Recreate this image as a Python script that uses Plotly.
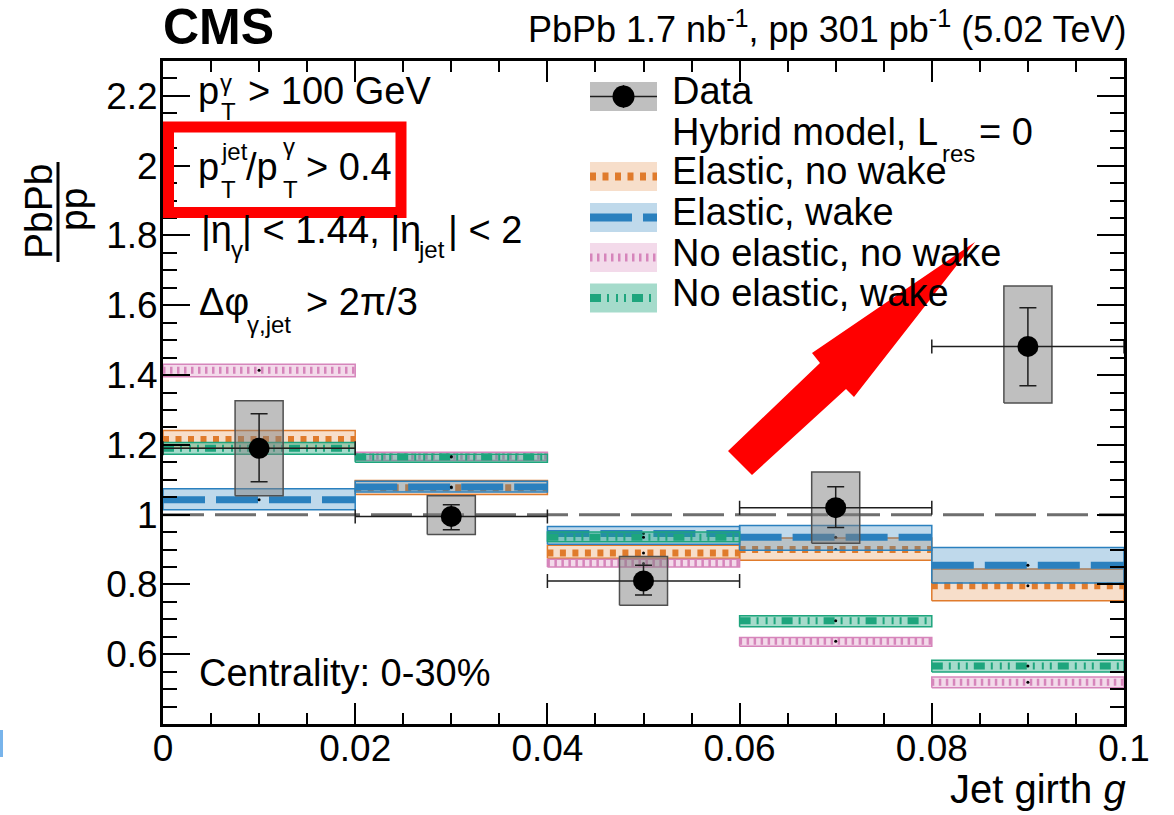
import plotly.graph_objects as go

# ---------------- data ----------------
bin_lo = [0.00, 0.02, 0.04, 0.06, 0.08]
bin_hi = [0.02, 0.04, 0.06, 0.08, 0.10]
bin_mid = [0.01, 0.03, 0.05, 0.07, 0.09]

data_val = [1.19, 0.995, 0.81, 1.02, 1.482]
data_stat_up = [0.099, 0.033, 0.045, 0.060, 0.111]
data_stat_dn = [0.096, 0.038, 0.040, 0.057, 0.113]
data_syst_hi = [1.326, 1.054, 0.880, 1.122, 1.655]
data_syst_lo = [1.054, 0.943, 0.740, 0.918, 1.320]
syst_halfwidth = 0.0025

# Hybrid model, L_res = 0
el_nowake_c = [1.215, 1.077, 0.890, 0.900, 0.796]
el_nowake_lo = [1.190, 1.058, 0.875, 0.869, 0.753]
el_nowake_hi = [1.241, 1.098, 0.912, 0.933, 0.844]

el_wake_c = [1.043, 1.079, 0.946, 0.935, 0.855]
el_wake_lo = [1.014, 1.065, 0.915, 0.898, 0.804]
el_wake_hi = [1.074, 1.096, 0.966, 0.969, 0.906]

noel_nowake_c = [1.414, 1.167, 0.860, 0.637, 0.520]
noel_nowake_lo = [1.395, 1.155, 0.850, 0.623, 0.504]
noel_nowake_hi = [1.431, 1.179, 0.872, 0.648, 0.535]

noel_wake_c = [1.190, 1.165, 0.935, 0.696, 0.566]
noel_wake_lo = [1.173, 1.150, 0.922, 0.679, 0.549]
noel_wake_hi = [1.207, 1.173, 0.950, 0.710, 0.583]

ref_value = 1.0

x_tickvals = [0, 0.02, 0.04, 0.06, 0.08, 0.1]
x_ticktext = ["0", "0.02", "0.04", "0.06", "0.08", "0.1"]
y_tickvals = [0.6, 0.8, 1.0, 1.2, 1.4, 1.6, 1.8, 2.0, 2.2]
y_ticktext = ["0.6", "0.8", "1", "1.2", "1.4", "1.6", "1.8", "2", "2.2"]

legend_labels = ["Data", "Elastic, no wake", "Elastic, wake",
                 "No elastic, no wake", "No elastic, wake"]

# ---------------- style ----------------
FONT = "Liberation Sans"
W, H = 1174, 815
ML, MR, MT, MB = 163, 50, 61, 91
PW, PH = W - ML - MR, H - MT - MB

C_OR = "rgb(224,123,44)"
C_BL = "rgb(42,128,190)"
C_PK = "rgb(214,133,187)"
C_GR = "rgb(30,165,125)"
F_OR = "rgba(224,123,44,0.25)"
F_BL = "rgba(42,128,190,0.30)"
F_PK = "rgba(214,133,187,0.30)"
F_GR = "rgba(30,165,125,0.40)"
D_OR = "6px,6.5px"
D_BL = "42px,11px"
D_PK = "2.5px,4.5px"
D_GR = "11px,6px,2px,7px,2px,6px,2px,6px"


def px(x):
    return (x - ML) / PW


def py(y):
    return (H - MB - y) / PH


def poly(lo_x, hi_x, lo_y, hi_y):
    xs, ys = [], []
    for a, b, c, d in zip(lo_x, hi_x, lo_y, hi_y):
        xs += [a, b, b, a, a, None]
        ys += [c, c, d, d, c, None]
    return xs, ys


def segs(lo_x, hi_x, yv):
    xs, ys = [], []
    for a, b, c in zip(lo_x, hi_x, yv):
        xs += [a, b, None]
        ys += [c, c, None]
    return xs, ys


fig = go.Figure()

models = [
    (el_nowake_c, el_nowake_lo, el_nowake_hi, C_OR, F_OR, D_OR),
    (el_wake_c, el_wake_lo, el_wake_hi, C_BL, F_BL, D_BL),
    (noel_nowake_c, noel_nowake_lo, noel_nowake_hi, C_PK, F_PK, D_PK),
    (noel_wake_c, noel_wake_lo, noel_wake_hi, C_GR, F_GR, D_GR),
]
for c, lo, hi, col, fcol, dash in models:
    bx, by = poly(bin_lo, bin_hi, lo, hi)
    fig.add_trace(go.Scatter(x=bx, y=by, mode="lines", fill="toself",
                             fillcolor=fcol, line=dict(color=col, width=1.5),
                             hoverinfo="skip", showlegend=False))
    lx, ly = segs(bin_lo, bin_hi, c)
    fig.add_trace(go.Scatter(x=lx, y=ly, mode="lines",
                             line=dict(color=col, width=7, dash=dash),
                             hoverinfo="skip", showlegend=False))
    fig.add_trace(go.Scatter(x=bin_mid, y=c, mode="markers",
                             marker=dict(color="black", size=3),
                             hoverinfo="skip", showlegend=False))

# reference line
fig.add_trace(go.Scatter(x=[bin_lo[0], bin_hi[-1]], y=[ref_value, ref_value],
                         mode="lines",
                         line=dict(color="rgb(110,110,110)", width=3, dash="41px,11px"),
                         hoverinfo="skip", showlegend=False))

# systematic boxes
sx_lo = [m - syst_halfwidth for m in bin_mid]
sx_hi = [m + syst_halfwidth for m in bin_mid]
bx, by = poly(sx_lo, sx_hi, data_syst_lo, data_syst_hi)
fig.add_trace(go.Scatter(x=bx, y=by, mode="lines", fill="toself",
                         fillcolor="rgba(128,128,128,0.5)",
                         line=dict(color="rgb(80,80,80)", width=1.5),
                         hoverinfo="skip", showlegend=False))

# data points
half_w = [(b - a) / 2 for a, b in zip(bin_lo, bin_hi)]
fig.add_trace(go.Scatter(
    x=bin_mid, y=data_val, mode="markers",
    marker=dict(color="black", size=21),
    error_x=dict(type="data", array=half_w, symmetric=True,
                 color="rgb(30,30,30)", thickness=1.5, width=7),
    error_y=dict(type="data", array=data_stat_up, arrayminus=data_stat_dn,
                 symmetric=False, color="rgb(30,30,30)", thickness=1.5, width=8.5),
    showlegend=False))

# ---------------- text ----------------
ann = []


def txt(x, base, s, size=38, anchor="left", color="black"):
    ann.append(dict(x=px(x), y=py(base + 0.212 * size), xref="paper", yref="paper",
                    text=s, showarrow=False, xanchor=anchor, yanchor="bottom",
                    borderpad=0, borderwidth=0,
                    font=dict(family=FONT, size=size, color=color)))


txt(163, 44, "<b>CMS</b>", 50)
txt(1127, 42, "PbPb 1.7 nb<sup>-1</sup>, pp 301 pb<sup>-1</sup> (5.02 TeV)", 36, "right")

# selection text
txt(198, 104, "p")
txt(220, 91, "γ", 24)
txt(221, 120, "T", 24)
txt(248, 104, "> 100 GeV")

txt(198, 180, "p")
txt(221, 160, "jet", 24)
txt(221, 198, "T", 24)
txt(246, 180, "/p")
txt(283, 155, "γ", 24)
txt(283, 198, "T", 24)
txt(306, 180, "> 0.4")

txt(201, 243, "|η")
txt(231, 258, "γ", 24)
txt(242, 243, "| < 1.44, |η")
txt(418, 258, "jet", 24)
txt(448, 243, "| < 2")

txt(199, 315, "Δφ")
txt(247, 333, "γ,jet", 24)
txt(306, 315, "> 2π/3")

txt(199, 686, "Centrality: 0-30%")
txt(1126, 803, "Jet girth <i>g</i>", 40, "right")

# legend labels
txt(672, 104, legend_labels[0])
txt(672, 145, "Hybrid model, L")
txt(942, 162, "res", 24)
txt(979, 145, "= 0")
txt(672, 184, legend_labels[1])
txt(672, 225, legend_labels[2])
txt(672, 266, legend_labels[3])
txt(672, 306, legend_labels[4])

# y axis title as fraction
ann.append(dict(x=px(39), y=py(212), xref="paper", yref="paper", text="PbPb",
                textangle=-90, showarrow=False, xanchor="center", yanchor="middle",
                borderpad=0, borderwidth=0, font=dict(family=FONT, size=39, color="black")))
ann.append(dict(x=px(73), y=py(210), xref="paper", yref="paper", text="pp",
                textangle=-90, showarrow=False, xanchor="center", yanchor="middle",
                borderpad=0, borderwidth=0, font=dict(family=FONT, size=39, color="black")))

# ---------------- shapes ----------------
shapes = []


def rect(x0, y0, x1, y1, fill, line_col=None, lw=0):
    shapes.append(dict(type="rect", xref="paper", yref="paper",
                       x0=px(x0), x1=px(x1), y0=py(y1), y1=py(y0),
                       fillcolor=fill, line=dict(color=line_col or "rgba(0,0,0,0)", width=lw)))


def hline(x0, x1, y, col, lw, dash="solid"):
    shapes.append(dict(type="line", xref="paper", yref="paper",
                       x0=px(x0), x1=px(x1), y0=py(y), y1=py(y),
                       line=dict(color=col, width=lw, dash=dash)))


# fraction bar
shapes.append(dict(type="line", xref="paper", yref="paper", x0=px(58), x1=px(58),
                   y0=py(262), y1=py(162), line=dict(color="black", width=3)))

# legend symbols
LX0, LX1 = 590, 657
rect(LX0, 82, LX1, 111, "rgba(128,128,128,0.5)")
hline(LX0, LX1, 96.5, "rgb(30,30,30)", 1.5)
shapes.append(dict(type="line", xref="paper", yref="paper", x0=px(623.5), x1=px(623.5),
                   y0=py(108), y1=py(85), line=dict(color="rgb(30,30,30)", width=1.5)))
shapes.append(dict(type="circle", xref="paper", yref="paper",
                   x0=px(612.5), x1=px(634.5), y0=py(107.5), y1=py(85.5),
                   fillcolor="black", line=dict(color="black", width=0)))
for (yc, col, fcol, dash) in [(176.5, C_OR, F_OR, D_OR), (217.5, C_BL, F_BL, D_BL),
                              (257.5, C_PK, F_PK, D_PK), (298, C_GR, F_GR, D_GR)]:
    rect(LX0, yc - 14.5, LX1, yc + 14.5, fcol)
    hline(LX0, LX1, yc, col, 8, dash)

# highlight rectangle
shapes.append(dict(type="rect", xref="paper", yref="paper",
                   x0=px(168.5), x1=px(401), y0=py(212.5), y1=py(127),
                   line=dict(color="rgb(255,0,0)", width=11), fillcolor="rgba(0,0,0,0)"))

# red arrow
arrow_px = [(975, 242), (854, 397), (846, 389), (752, 475), (728, 451), (820, 363), (812, 353)]
path = "M " + " L ".join(f"{px(a):.5f},{py(b):.5f}" for a, b in arrow_px) + " Z"
shapes.append(dict(type="path", xref="paper", yref="paper", path=path,
                   fillcolor="rgb(255,0,0)", line=dict(color="rgb(255,0,0)", width=0)))

# small crop artifact at left edge
shapes.append(dict(type="line", xref="paper", yref="paper", x0=px(1.5), x1=px(1.5),
                   y0=py(757), y1=py(730), line=dict(color="rgb(120,180,235)", width=3)))

fig.update_layout(
    width=W, height=H,
    margin=dict(l=ML, r=MR, t=MT, b=MB, pad=0),
    paper_bgcolor="white", plot_bgcolor="white",
    showlegend=False,
    annotations=ann, shapes=shapes,
    font=dict(family=FONT, color="black"),
    xaxis=dict(range=[0, 0.1], tickmode="array", tickvals=x_tickvals, ticktext=x_ticktext,
               ticks="inside", ticklen=21, tickwidth=2, tickcolor="black",
               ticklabelstandoff=-10,
               minor=dict(dtick=0.005, tick0=0, ticks="inside", ticklen=11, tickwidth=2,
                          tickcolor="black", showgrid=False),
               showline=True, linewidth=3, linecolor="black", mirror="allticks",
               showgrid=False, zeroline=False,
               tickfont=dict(family=FONT, size=37, color="black")),
    yaxis=dict(range=[0.4, 2.3], tickmode="array", tickvals=y_tickvals, ticktext=y_ticktext,
               ticks="inside", ticklen=27, tickwidth=2, tickcolor="black",
               ticklabelstandoff=-5,
               minor=dict(dtick=0.05, tick0=0, ticks="inside", ticklen=14, tickwidth=2,
                          tickcolor="black", showgrid=False),
               showline=True, linewidth=3, linecolor="black", mirror="allticks",
               showgrid=False, zeroline=False,
               tickfont=dict(family=FONT, size=37, color="black")),
)

fig.write_html("out.html")
